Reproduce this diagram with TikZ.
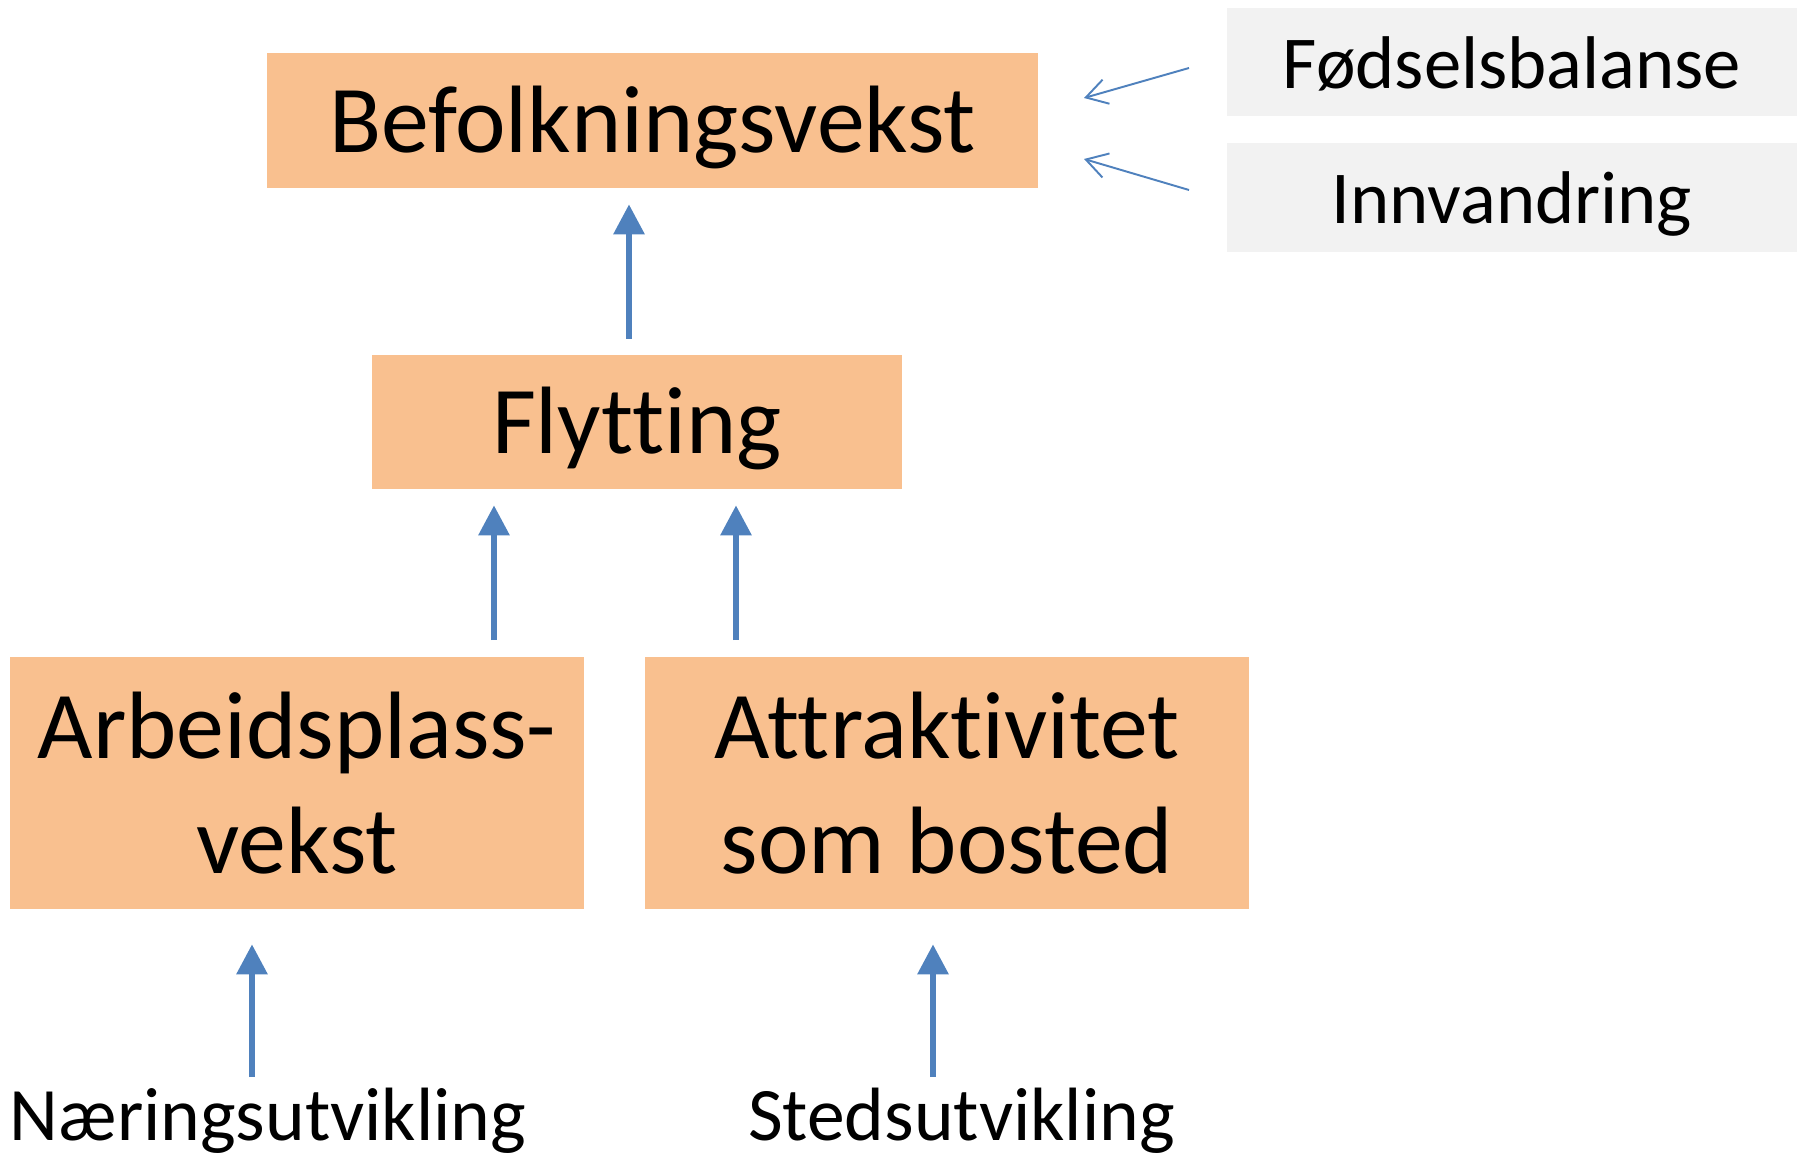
\documentclass[tikz,border=0pt]{standalone}
\usepackage{fontspec}
\setmainfont[Ligatures=NoCommon]{Carlito}
\usetikzlibrary{arrows.meta}
\definecolor{boxorange}{RGB}{249,192,143}
\definecolor{boxgrey}{RGB}{242,242,242}
\definecolor{arrblue}{RGB}{79,129,189}
\tikzset{
  obox/.style={fill=boxorange, draw=none, align=center, inner sep=0pt,
    font=\fontsize{54.5}{65}\selectfont},
  onebox/.style={obox, text height=43.6pt, text depth=7.3pt},
  gbox/.style={fill=boxgrey, draw=none, align=center, inner sep=0pt,
    font=\fontsize{42.5}{51}\selectfont, minimum width=11.4cm,
    text height=34pt, text depth=4.25pt},
  plain/.style={inner sep=0pt, font=\fontsize{43}{52}\selectfont, anchor=base},
  bigarr/.style={draw=arrblue, line width=3.4pt, -{Triangle[length=0.6cm,width=0.6cm]}},
  thinarr/.style={draw=arrblue, line width=1.1pt, -{Straight Barb[length=0.42cm,width=0.5cm]}}
}
\begin{document}
\begin{tikzpicture}[x={(0.02cm,0)}, y={(0,-0.02cm)}]
\useasboundingbox (0,0) rectangle (1797,1158);
\node[onebox, minimum width=15.42cm, minimum height=2.70cm] (bef) at (652.5,120.5) {Befolkningsvekst};
\node[onebox, minimum width=10.6cm, minimum height=2.68cm] (flyt) at (637,422) {Flytting};
\node[obox, minimum width=11.48cm, minimum height=5.04cm] (arb) at (297,783) {Arbeidsplass-\\vekst};
\node[obox, minimum width=12.08cm, minimum height=5.04cm] (attr) at (947,783) {Attraktivitet\\som bosted};
\node[gbox, minimum height=2.16cm] (fod) at (1512,62) {Fødselsbalanse};
\node[gbox, minimum height=2.18cm] (inn) at (1512,197.5) {Innvandring};
\node[plain] (nar) at (268,1140) {Næringsutvikling};
\node[plain] (sted) at (961.5,1140) {Stedsutvikling};
% big arrows
\coordinate (a1) at (629,339);
\draw[bigarr, shorten >=16*0.02cm] (a1) -- (a1 |- bef.south);
\coordinate (a2) at (494,640);
\draw[bigarr, shorten >=16*0.02cm] (a2) -- (a2 |- flyt.south);
\coordinate (a3) at (736,640);
\draw[bigarr, shorten >=16*0.02cm] (a3) -- (a3 |- flyt.south);
\coordinate (a4) at (252,1077);
\draw[bigarr, shorten >=35*0.02cm] (a4) -- (a4 |- arb.south);
\coordinate (a5) at (933,1077);
\draw[bigarr, shorten >=35*0.02cm] (a5) -- (a5 |- attr.south);
% thin arrows
\coordinate (t1s) at (1189,68);
\coordinate (t1e) at (1084,98);
\coordinate (t2s) at (1189,190);
\coordinate (t2e) at (1084,159);
\draw[thinarr] (t1s) -- (t1e);
\draw[thinarr] (t2s) -- (t2e);
\end{tikzpicture}
\end{document}
